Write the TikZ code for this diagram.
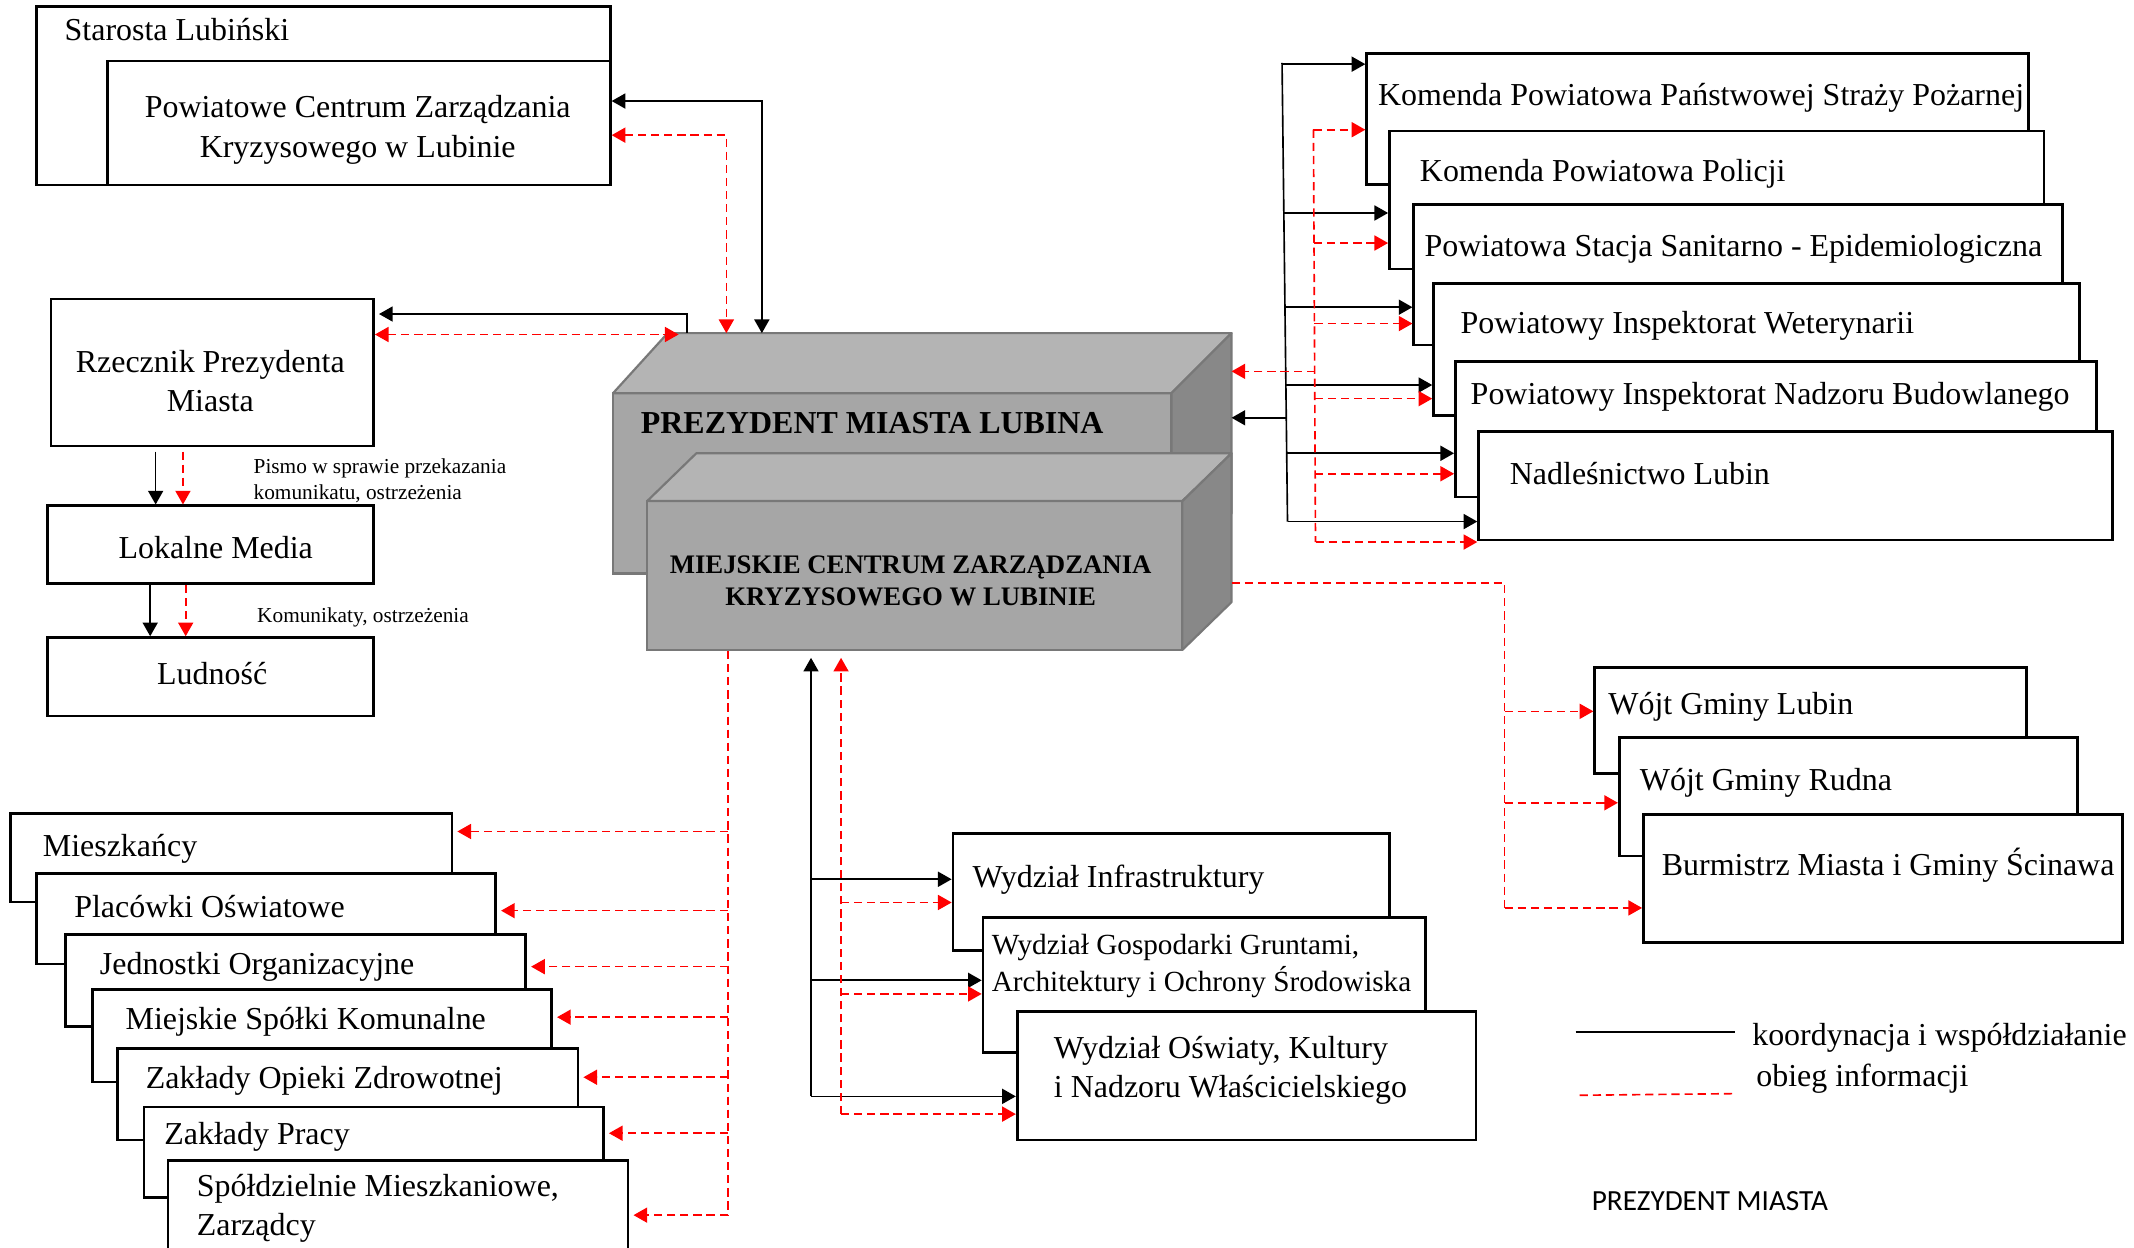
\documentclass[tikz,border=0pt]{standalone}
\usepackage{fontspec}
\setmainfont{Liberation Serif}
\newfontfamily\legsans{Carlito}
\usetikzlibrary{arrows.meta,fit,calc}
\definecolor{frontgray}{HTML}{A6A6A6}
\definecolor{topgray}{HTML}{B4B4B4}
\definecolor{sidegray}{HTML}{888888}
\definecolor{edgegray}{HTML}{787878}
\newcommand\szmain{\fontsize{11.7}{14.5}\selectfont}
\newcommand\szsmall{\fontsize{7.8}{9.5}\selectfont}
\newcommand\szbig{\fontsize{11.7}{14}\selectfont\bfseries}
\newcommand\szmid{\fontsize{9.8}{12}\selectfont\bfseries}
\newcommand\mkbox[5]{\path (#2,#3) coordinate (#1-nw) (#4,#5) coordinate (#1-se); \node[box, fit=(#1-nw)(#1-se)] (#1) {};}
\begin{document}
\begin{tikzpicture}[x=0.5pt,y=-0.5pt,
 box/.style={draw=black,line width=1pt,fill=white,inner sep=0pt},
 txt/.style={inner sep=0pt,font=\szmain},
 blk/.style={draw=black,line width=0.6pt},
 rd/.style={draw=red,line width=0.6pt,dash pattern=on 3pt off 1.8pt},
 >={Triangle[length=5pt,width=5.5pt]},
 face/.style={draw=edgegray,line width=0.8pt,fill=frontgray,inner sep=0pt},
 faceedge/.style={draw=edgegray,line width=0.8pt,line join=round}]
\fill[white] (0,0) rectangle (1563,914);
\useasboundingbox (0,0) rectangle (1563,914);

% ---- Starosta
\mkbox{star}{26.5}{5}{447}{135.5}
\node[txt,anchor=base west] (t-star) at (47,30) {Starosta Lubiński};
\mkbox{pczk}{78.5}{44.7}{447}{135.5}
\node[txt,align=center] (t-pczk) at (262,95) {Powiatowe Centrum Zarządzania\\Kryzysowego w Lubinie};

% ---- Rzecznik, media
\mkbox{rz}{37.4}{219}{273.6}{326.7}
\node[txt,align=center] (t-rz) at (154,279) {Rzecznik Prezydenta\\Miasta};
\mkbox{lm}{34.8}{370.5}{273.4}{427.4}
\node[txt,anchor=base] (t-lm) at (158,409) {Lokalne Media};
\mkbox{lud}{34.8}{467}{273.4}{524.5}
\node[txt,anchor=base] (t-lud) at (155.4,501) {Ludność};
\node[txt,font=\szsmall,align=left,anchor=west] (t-pismo) at (185.4,352.3) {Pismo w sprawie przekazania\\komunikatu, ostrzeżenia};
\node[txt,font=\szsmall,anchor=base west] (t-kom) at (188,456) {Komunikaty, ostrzeżenia};

% ---- 3D box PREZYDENT
\path (449,288) coordinate (p-nw) (858,420) coordinate (p-se) (858,288) coordinate (p-ne);
\node[face,fit=(p-nw)(p-se)] (prez) {};
\draw[faceedge,fill=topgray] (p-nw) -- ++(40,-44) coordinate (ptl) -- ++(413,0) coordinate (ptr) -- (p-ne) -- cycle;
\draw[faceedge,fill=sidegray] (p-ne) -- (ptr) -- ++(0,132) -- (p-se) -- cycle;
\node[txt,font=\szbig,anchor=base west] (t-prez) at (469,317.5) {PREZYDENT MIASTA LUBINA};

% ---- 3D box MCZK
\path (474,367) coordinate (m-nw) (866,476) coordinate (m-se) (866,367) coordinate (m-ne);
\node[face,fit=(m-nw)(m-se)] (mczk) {};
\draw[faceedge,fill=topgray] (m-nw) -- ++(36,-35) -- ++(392,0) coordinate (mtr) -- (m-ne) -- cycle;
\draw[faceedge,fill=sidegray] (m-ne) -- (mtr) -- ++(0,109) coordinate (mbr) -- (m-se) -- cycle;
\node[txt,font=\szmid,align=center] (t-mczk) at (667,425.5) {MIEJSKIE CENTRUM ZARZĄDZANIA\\KRYZYSOWEGO W LUBINIE};

% ---- right group
\mkbox{k1}{1001}{39}{1485.5}{135}
\node[txt,anchor=base west] (t-k1) at (1009,77) {Komenda Powiatowa Państwowej Straży Pożarnej};
\mkbox{k2}{1017.7}{96}{1497}{197}
\node[txt,anchor=base west] (t-k2) at (1039.6,133) {Komenda Powiatowa Policji};
\mkbox{k3}{1035.5}{150}{1510.4}{252.7}
\node[txt,anchor=base west] (t-k3) at (1043,188) {Powiatowa Stacja Sanitarno - Epidemiologiczna};
\mkbox{k4}{1050}{207.5}{1523}{304.5}
\node[txt,anchor=base west] (t-k4) at (1069.4,244) {Powiatowy Inspektorat Weterynarii};
\mkbox{k5}{1066}{265}{1535.3}{364}
\node[txt,anchor=base west] (t-k5) at (1076.8,296) {Powiatowy Inspektorat Nadzoru Budowlanego};
\mkbox{k6}{1083}{316}{1547}{395.6}
\node[txt,anchor=base west] (t-k6) at (1105.5,355) {Nadleśnictwo Lubin};

% ---- gminy
\mkbox{w1}{1168}{489}{1484}{566.4}
\node[txt,anchor=base west] (t-w1) at (1177.6,523) {Wójt Gminy Lubin};
\mkbox{w2}{1186}{540.4}{1521.8}{627}
\node[txt,anchor=base west] (t-w2) at (1200.7,579) {Wójt Gminy Rudna};
\mkbox{w3}{1203.7}{596.3}{1554.8}{690.5}
\node[txt,anchor=base west] (t-w3) at (1216.8,641) {Burmistrz Miasta i Gminy Ścinawa};

% ---- wydzialy
\mkbox{d1}{698}{610.5}{1017.7}{696}
\node[txt,anchor=base west] (t-d1) at (712,650) {Wydział Infrastruktury};
\mkbox{d2}{720}{672}{1044}{770.7}
\node[txt,align=left,anchor=west,font=\fontsize{10.7}{13.5}\selectfont] (t-d2) at (726,707.5) {Wydział Gospodarki Gruntami,\\Architektury i Ochrony Środowiska};
\mkbox{d3}{745}{741}{1081}{835}
\node[txt,align=left,anchor=west] (t-d3) at (771.5,784) {Wydział Oświaty, Kultury\\i Nadzoru Właścicielskiego};

% ---- left group
\mkbox{l1}{7.8}{595.8}{331}{660.6}
\node[txt,anchor=base west] (t-l1) at (31,627) {Mieszkańcy};
\mkbox{l2}{26.6}{640}{363}{706}
\node[txt,anchor=base west] (t-l2) at (54,672) {Placówki Oświatowe};
\mkbox{l3}{48}{684.5}{385}{751.6}
\node[txt,anchor=base west] (t-l3) at (72.8,714) {Jednostki Organizacyjne};
\mkbox{l4}{67.5}{725}{404}{792.5}
\node[txt,anchor=base west] (t-l4) at (91.6,754) {Miejskie Spółki Komunalne};
\mkbox{l5}{86.3}{768}{423.3}{835}
\node[txt,anchor=base west] (t-l5) at (106.5,797) {Zakłady Opieki Zdrowotnej};
\mkbox{l6}{105.5}{810.8}{442}{877}
\node[txt,anchor=base west] (t-l6) at (120,838) {Zakłady Pracy};
\mkbox{l7}{123}{850}{460}{940}
\node[txt,align=left,anchor=west] (t-l7) at (143.8,885) {Spółdzielnie Mieszkaniowe,\\Zarządcy};

% ---- connectors: top left
\coordinate (j1) at (558,74);
\draw[blk,<->] (pczk.east |- j1) -- (j1) -- (j1 |- ptl);
\coordinate (j2) at (532,99);
\draw[rd,<->] (pczk.east |- j2) -- (j2) -- (j2 |- ptl);
\coordinate (j3) at (503,230);
\draw[blk,->,shorten >=1.5pt] (j3 |- ptl) -- (j3) -- (rz.east |- j3);
\coordinate (j4) at (497,245);
\draw[rd,<->] (rz.east |- j4) -- (j4);

% media
\coordinate (m1) at (114,0); \coordinate (m2) at (134,0);
\coordinate (m3) at (110,0); \coordinate (m4) at (136,0);
\draw[blk,->,shorten <=1.5pt] (m1 |- rz.south) -- (m1 |- lm.north);
\draw[rd,->,shorten <=1.5pt] (m2 |- rz.south) -- (m2 |- lm.north);
\draw[blk,->] (m3 |- lm.south) -- (m3 |- lud.north);
\draw[rd,->] (m4 |- lm.south) -- (m4 |- lud.north);

% right buses
\coordinate (kbt) at (939,46); \coordinate (kbb) at (943,382);
\draw[blk] (kbt) -- (kbb);
\foreach \n/\y/\x in {k1/47/939,k2/156/940.5,k3/225/941.3,k4/282/942,k5/332/942.5,k6/382/943}{
  \coordinate (kb-\n) at (\x,\y);
  \draw[blk,->] (kb-\n) -- (kb-\n -| \n.west);
}
\coordinate (kb0) at (942,306);
\draw[blk,->] (kb0) -- (kb0 -| ptr);
\coordinate (rbt) at (962,95); \coordinate (rbb) at (963.5,397);
\draw[rd] (rbt) -- (rbb);
\foreach \n/\y/\x in {k1/95/962,k2/178/962.4,k3/237/962.7,k4/292/963,k5/347/963.2,k6/397/963.5}{
  \coordinate (rb-\n) at (\x,\y);
  \draw[rd,->] (rb-\n) -- (rb-\n -| \n.west);
}
\coordinate (rb0) at (963,272);
\draw[rd,->] (rb0) -- (rb0 -| ptr);

% gminy bus
\coordinate (wa) at (1102,427); \coordinate (wb) at (1102,666);
\draw[rd] (wa -| mtr) -- (wa) -- (wb);
\foreach \n/\y in {w1/521,w2/588,w3/665}{
  \coordinate (wc-\n) at (1102,\y);
  \draw[rd,->] (wc-\n) -- (wc-\n -| \n.west);
}

% wydzialy bus
\coordinate (db) at (594,803);
\draw[blk,->,shorten >=2.5pt] (db) -- (db |- mczk.south);
\foreach \n/\y in {d1/644,d2/718,d3/803}{
  \coordinate (dc-\n) at (594,\y);
  \draw[blk,->] (dc-\n) -- (dc-\n -| \n.west);
}
\coordinate (dr) at (616,816);
\draw[rd,->,shorten >=2.5pt] (dr) -- (dr |- mczk.south);
\foreach \n/\y in {d1/661,d2/728,d3/816}{
  \coordinate (dd-\n) at (616,\y);
  \draw[rd,->] (dd-\n) -- (dd-\n -| \n.west);
}

% left bus
\coordinate (la) at (533,890);
\draw[rd] (la |- mczk.south) -- (la);
\foreach \n/\y in {l1/609,l2/667,l3/708,l4/745,l5/789,l6/830,l7/890}{
  \coordinate (lc-\n) at (533,\y);
  \draw[rd,->,shorten >=1.5pt] (lc-\n) -- (lc-\n -| \n.east);
}

% legend
\coordinate (lg1) at (1154,756); \coordinate (lg2) at (1271,756);
\coordinate (lg3) at (1157,802.2); \coordinate (lg4) at (1271,801);
\draw[blk] (lg1) -- (lg2);
\draw[rd] (lg3) -- (lg4);
\node[txt,anchor=base west] (t-lg1) at (1283,765.5) {koordynacja i współdziałanie};
\node[txt,anchor=base west] (t-lg2) at (1286,796) {obieg informacji};
\node[inner sep=0pt,anchor=base west,font=\legsans\fontsize{10.7}{12}\selectfont] (t-lg3) at (1165.5,886.5) {PREZYDENT MIASTA};
\end{tikzpicture}
\end{document}
